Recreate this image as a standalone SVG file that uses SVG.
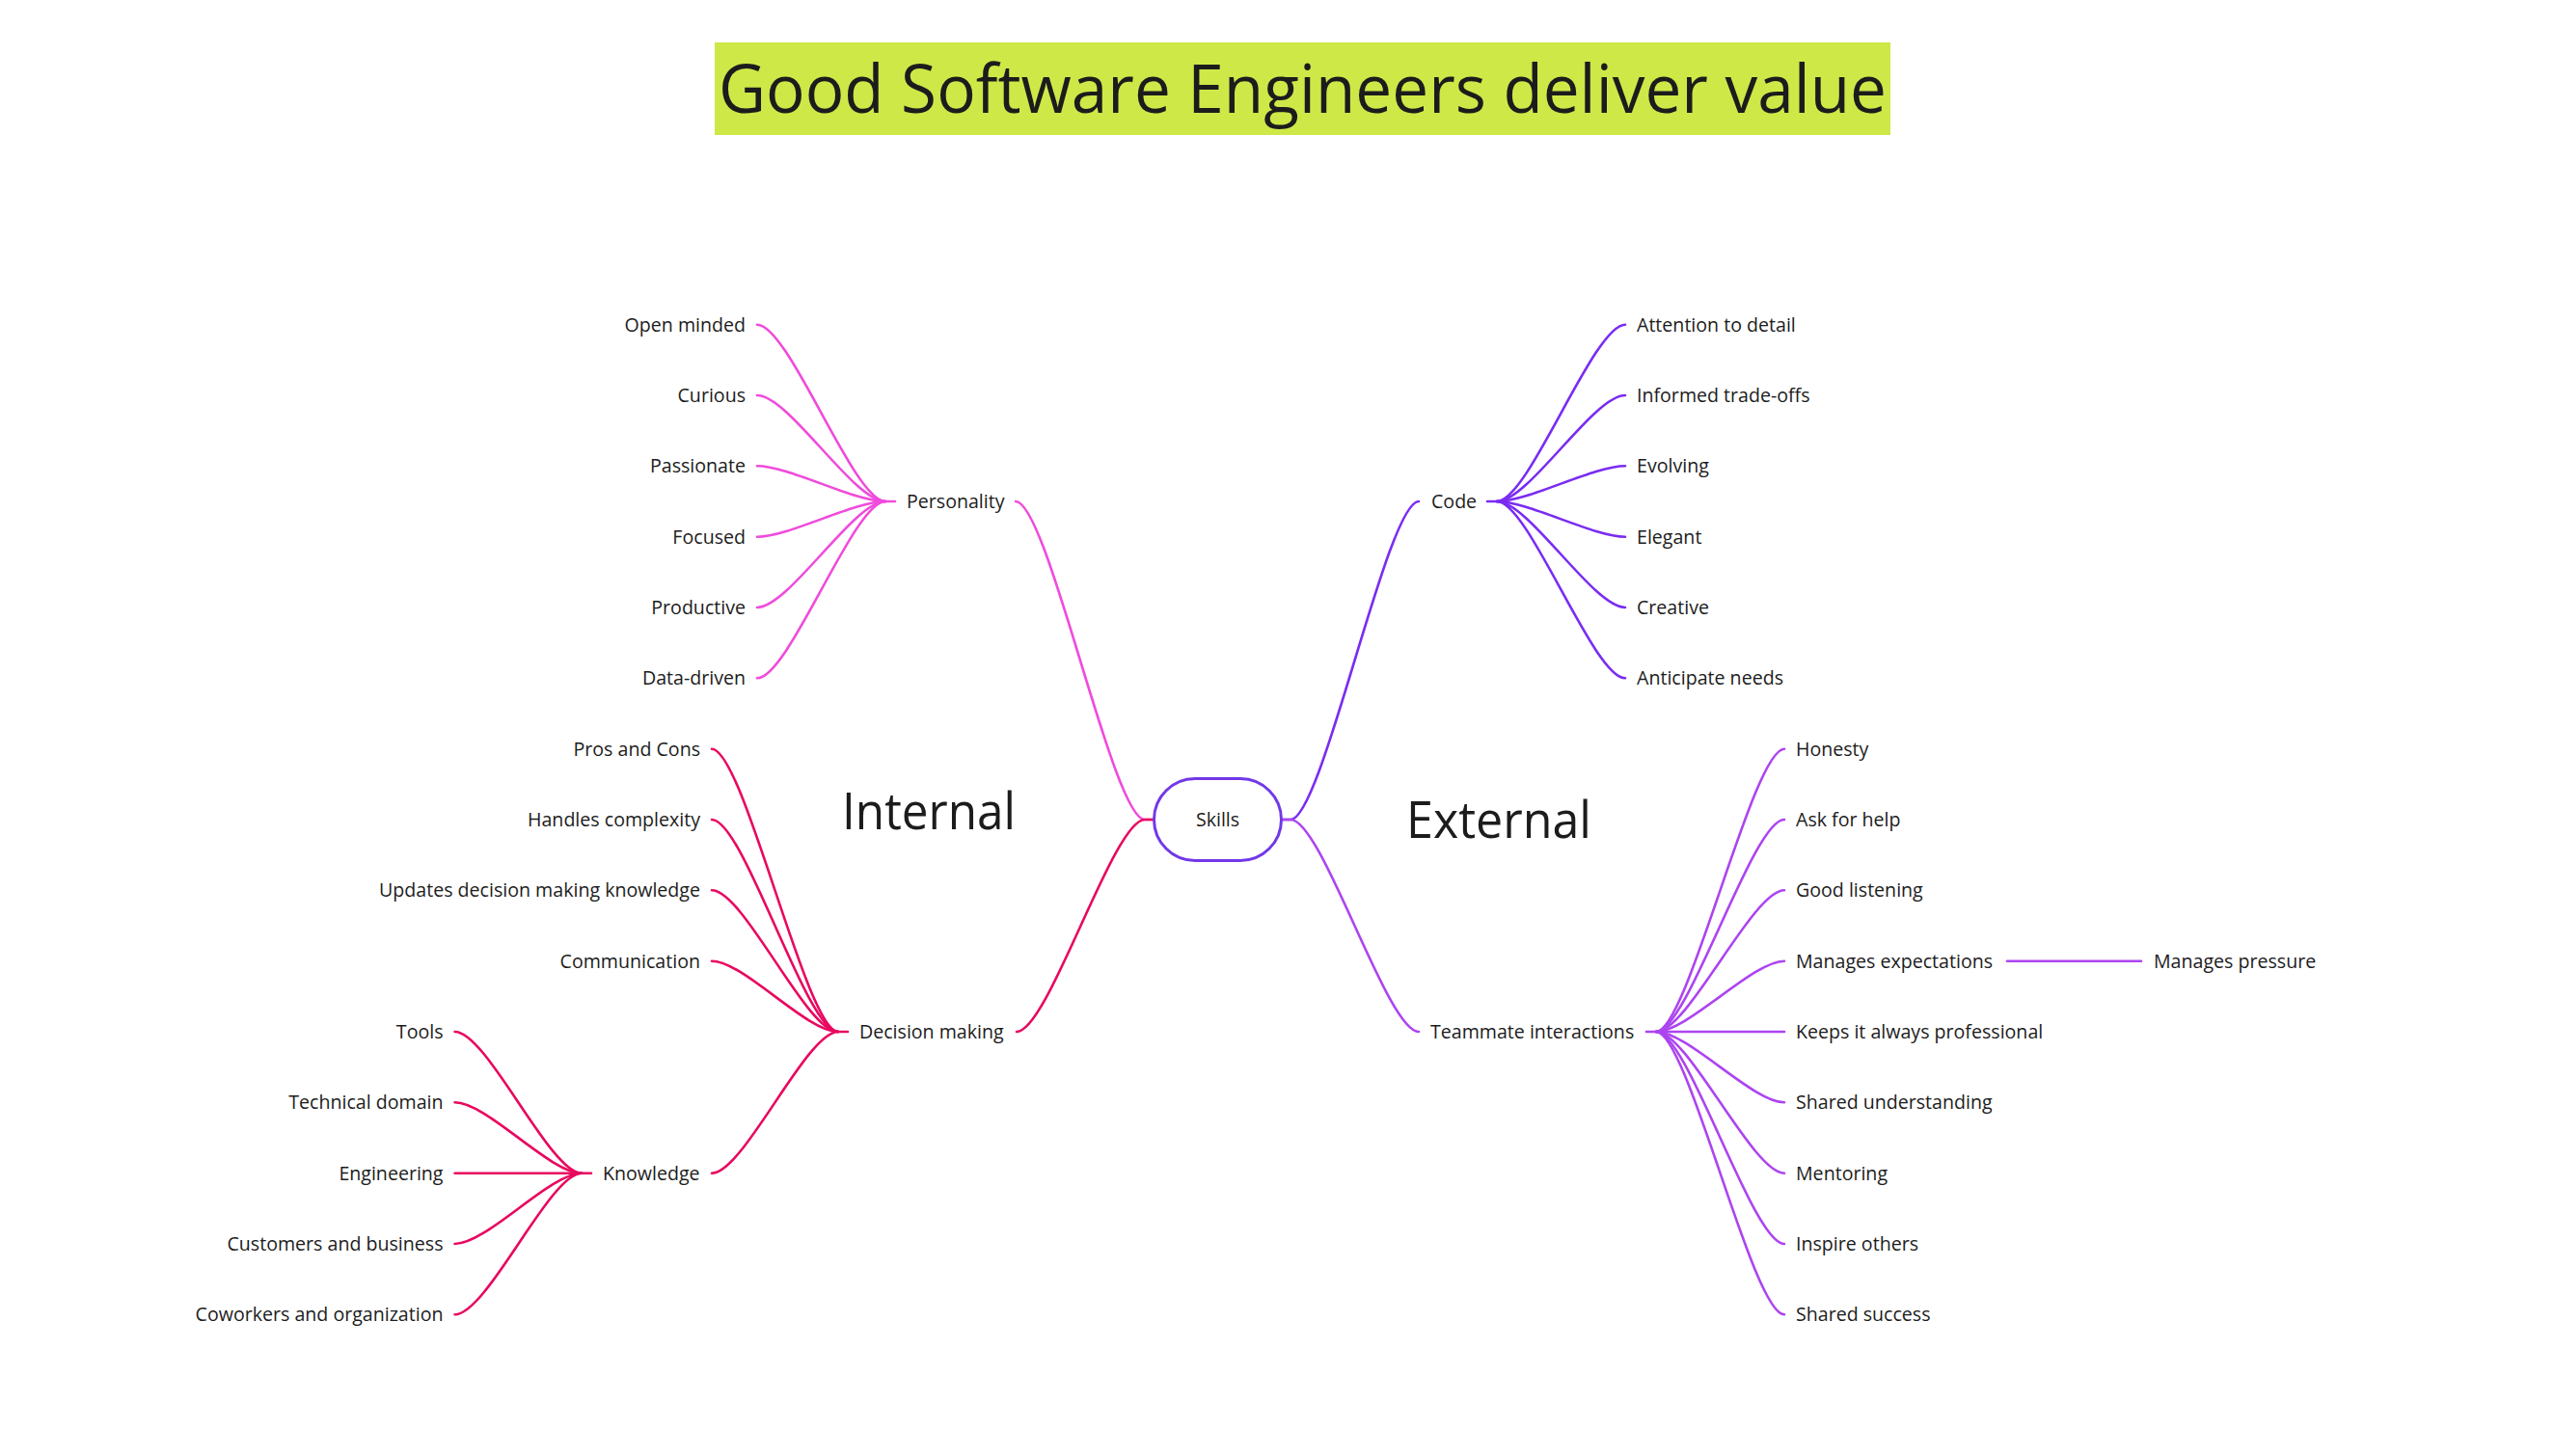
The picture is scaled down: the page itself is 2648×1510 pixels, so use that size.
<svg xmlns="http://www.w3.org/2000/svg" width="2648" height="1510" viewBox="0 0 2648 1510">
<style>
text{font-family:"Open Sans","Noto Sans","Liberation Sans",sans-serif;fill:#1c1c1c}
.l{font-size:19.6px}
.e{text-anchor:end}
.m{text-anchor:middle}
.big{font-size:53px}
path{fill:none;stroke-width:2.6;stroke-linecap:round}
.pp{stroke:#F04BDC}
.dm{stroke:#E8085F}
.cd{stroke:#7A2CF2}
.tm{stroke:#AD44F0}
</style>
<rect width="2648" height="1510" fill="#ffffff"/>
<g id="title">
<rect x="741" y="44" width="1219" height="96" fill="#CEE847"/>
<text x="745" y="117" font-size="70" textLength="1211" lengthAdjust="spacingAndGlyphs">Good Software Engineers deliver value</text>
</g>
<g id="label-internal"><text class="big" x="873" y="860" textLength="180" lengthAdjust="spacingAndGlyphs">Internal</text></g>
<g id="label-external"><text class="big" x="1458" y="869" textLength="192" lengthAdjust="spacingAndGlyphs">External</text></g>

<g id="connectors">
<path class="pp" d="M1053 520 C1086.5 520 1153.5 850 1187 850 L1195 850"/>
<path class="dm" d="M1054 1070 C1087 1070 1154 850 1187 850 L1195 850"/>
<path class="cd" d="M1330 850 L1338 850 C1371 850 1438 520 1471 520"/>
<path class="tm" d="M1330 850 L1338 850 C1371 850 1438 1070 1471 1070"/>
<path class="pp" d="M785 336.7 C818 336.7 885 520 918 520 L928 520"/>
<path class="pp" d="M785 410 C818 410 885 520 918 520"/>
<path class="pp" d="M785 483.3 C818 483.3 885 520 918 520"/>
<path class="pp" d="M785 556.7 C818 556.7 885 520 918 520"/>
<path class="pp" d="M785 630 C818 630 885 520 918 520"/>
<path class="pp" d="M785 703.3 C818 703.3 885 520 918 520"/>
<path class="dm" d="M738 776.7 C771 776.7 836 1070 869 1070 L879 1070"/>
<path class="dm" d="M738 850 C771 850 836 1070 869 1070"/>
<path class="dm" d="M738 923.3 C771 923.3 836 1070 869 1070"/>
<path class="dm" d="M738 996.7 C771 996.7 836 1070 869 1070"/>
<path class="dm" d="M738 1216.7 C771 1216.7 836 1070 869 1070"/>
<path class="dm" d="M471.6 1070 C505 1070 570 1216.7 603 1216.7 L613 1216.7"/>
<path class="dm" d="M471.6 1143.3 C505 1143.3 570 1216.7 603 1216.7"/>
<path class="dm" d="M471.6 1216.7 L603 1216.7"/>
<path class="dm" d="M471.6 1290 C505 1290 570 1216.7 603 1216.7"/>
<path class="dm" d="M471.6 1363.3 C505 1363.3 570 1216.7 603 1216.7"/>
<path class="cd" d="M1542 520 L1552 520 C1585 520 1652 336.7 1685 336.7"/>
<path class="cd" d="M1552 520 C1585 520 1652 410 1685 410"/>
<path class="cd" d="M1552 520 C1585 520 1652 483.3 1685 483.3"/>
<path class="cd" d="M1552 520 C1585 520 1652 556.7 1685 556.7"/>
<path class="cd" d="M1552 520 C1585 520 1652 630 1685 630"/>
<path class="cd" d="M1552 520 C1585 520 1652 703.3 1685 703.3"/>
<path class="tm" d="M1707 1070 L1717 1070 C1750 1070 1817 776.7 1850 776.7"/>
<path class="tm" d="M1717 1070 C1750 1070 1817 850 1850 850"/>
<path class="tm" d="M1717 1070 C1750 1070 1817 923.3 1850 923.3"/>
<path class="tm" d="M1717 1070 C1750 1070 1817 996.7 1850 996.7"/>
<path class="tm" d="M1717 1070 L1850 1070"/>
<path class="tm" d="M1717 1070 C1750 1070 1817 1143.3 1850 1143.3"/>
<path class="tm" d="M1717 1070 C1750 1070 1817 1216.7 1850 1216.7"/>
<path class="tm" d="M1717 1070 C1750 1070 1817 1290 1850 1290"/>
<path class="tm" d="M1717 1070 C1750 1070 1817 1363.3 1850 1363.3"/>
<path class="tm" d="M2081 996.7 L2220 996.7"/>
</g>

<g id="node-skills">
<rect x="1196.5" y="807.5" width="132" height="85" rx="42.5" fill="#ffffff" stroke="#7238E8" stroke-width="3"/>
<text class="l m" x="1262.5" y="857">Skills</text>
</g>

<g id="node-personality"><text class="l" x="940" y="527">Personality</text></g>
<g id="node-open-minded"><text class="l e" x="773" y="343.7">Open minded</text></g>
<g id="node-curious"><text class="l e" x="773" y="417">Curious</text></g>
<g id="node-passionate"><text class="l e" x="773" y="490.3">Passionate</text></g>
<g id="node-focused"><text class="l e" x="773" y="563.7">Focused</text></g>
<g id="node-productive"><text class="l e" x="773" y="637">Productive</text></g>
<g id="node-data-driven"><text class="l e" x="773" y="710.3">Data-driven</text></g>

<g id="node-decision-making"><text class="l" x="891" y="1077">Decision making</text></g>
<g id="node-pros-cons"><text class="l e" x="726" y="783.7">Pros and Cons</text></g>
<g id="node-handles-complexity"><text class="l e" x="726" y="857">Handles complexity</text></g>
<g id="node-updates-knowledge"><text class="l e" x="726" y="930.3">Updates decision making knowledge</text></g>
<g id="node-communication"><text class="l e" x="726" y="1003.7">Communication</text></g>

<g id="node-knowledge"><text class="l" x="625" y="1223.7">Knowledge</text></g>
<g id="node-tools"><text class="l e" x="459.5" y="1077">Tools</text></g>
<g id="node-technical-domain"><text class="l e" x="459.5" y="1150.3">Technical domain</text></g>
<g id="node-engineering"><text class="l e" x="459.5" y="1223.7">Engineering</text></g>
<g id="node-customers"><text class="l e" x="459.5" y="1297">Customers and business</text></g>
<g id="node-coworkers"><text class="l e" x="459.5" y="1370.3">Coworkers and organization</text></g>

<g id="node-code"><text class="l" x="1484" y="527">Code</text></g>
<g id="node-attention"><text class="l" x="1697" y="343.7">Attention to detail</text></g>
<g id="node-trade-offs"><text class="l" x="1697" y="417">Informed trade-offs</text></g>
<g id="node-evolving"><text class="l" x="1697" y="490.3">Evolving</text></g>
<g id="node-elegant"><text class="l" x="1697" y="563.7">Elegant</text></g>
<g id="node-creative"><text class="l" x="1697" y="637">Creative</text></g>
<g id="node-anticipate"><text class="l" x="1697" y="710.3">Anticipate needs</text></g>

<g id="node-teammate"><text class="l" x="1483" y="1077">Teammate interactions</text></g>
<g id="node-honesty"><text class="l" x="1862" y="783.7">Honesty</text></g>
<g id="node-ask-help"><text class="l" x="1862" y="857">Ask for help</text></g>
<g id="node-good-listening"><text class="l" x="1862" y="930.3">Good listening</text></g>
<g id="node-manages-expectations"><text class="l" x="1862" y="1003.7">Manages expectations</text></g>
<g id="node-manages-pressure"><text class="l" x="2233" y="1003.7">Manages pressure</text></g>
<g id="node-professional"><text class="l" x="1862" y="1077">Keeps it always professional</text></g>
<g id="node-shared-understanding"><text class="l" x="1862" y="1150.3">Shared understanding</text></g>
<g id="node-mentoring"><text class="l" x="1862" y="1223.7">Mentoring</text></g>
<g id="node-inspire"><text class="l" x="1862" y="1297">Inspire others</text></g>
<g id="node-shared-success"><text class="l" x="1862" y="1370.3">Shared success</text></g>
</svg>
